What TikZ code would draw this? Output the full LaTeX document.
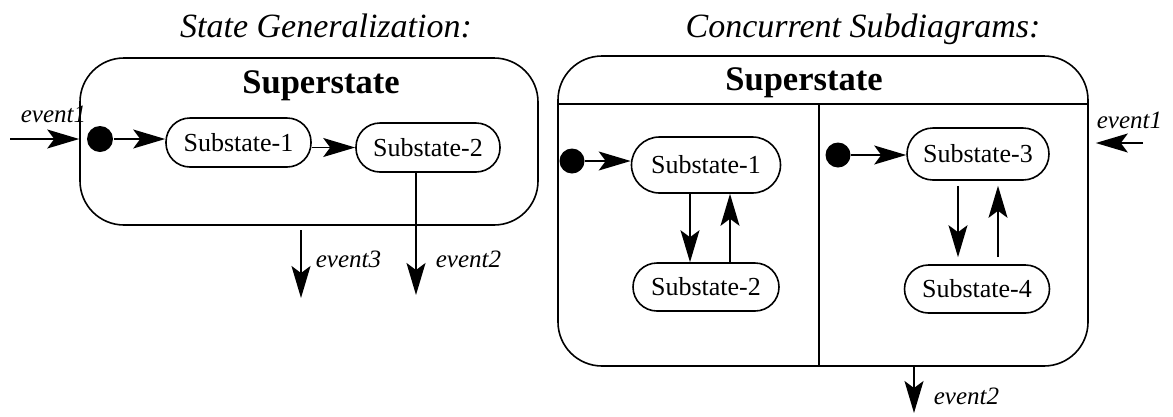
\documentclass[tikz,border=0pt]{standalone}
\usepackage{fontspec}
\setmainfont{Liberation Serif}
\usetikzlibrary{arrows.meta}
\begin{document}
\begin{tikzpicture}[x=1pt,y=-1pt,
  line width=1.6pt,
  sub/.style={draw, rounded corners=24pt, inner sep=0pt, minimum height=49pt, font=\fontsize{26}{30}\selectfont},
  bigbox/.style={draw, rounded corners=44pt, inner sep=0pt},
  super/.style={font=\bfseries\fontsize{34.5}{40}\selectfont, anchor=base, inner sep=0pt},
  ttl/.style={font=\itshape\fontsize{34}{40}\selectfont, anchor=base, inner sep=0pt},
  evt/.style={font=\itshape\fontsize{25}{30}\selectfont, anchor=base west, inner sep=0pt},
  init/.style={circle, fill, inner sep=0pt, minimum size=25pt},
  tr/.style={-{Stealth[length=32pt,width=19pt,inset=7pt]}},
]
\useasboundingbox (0,0) rectangle (1173,416);

% ---------- left: State Generalization ----------
\node[ttl] (T1) at (326,37) {State Generalization:};
\node[bigbox, minimum width=458pt, minimum height=167pt] (LB) at (309,141.5) {};
\node[super] (LS) at (321,93) {Superstate};
\node[init, minimum size=26pt] (L0) at (100,139) {};
\node[sub, minimum width=145pt] (L1) at (238.5,142.5) {Substate-1};
\node[sub, minimum width=144pt] (L2) at (428,147.5) {Substate-2};

\coordinate (Le1) at (10,139);
\draw[tr] (Le1) -- (Le1 -| LB.west);
\node[evt] (Le1t) at (20,122) {event1};
\draw[tr] (L0) -- (L0 -| L1.west);
\draw[tr] (L1.east |- L2.west) -- (L2.west);

\coordinate (Le2) at (416,295);
\draw[tr] (L2.south -| Le2) -- (Le2);
\node[evt] (Le2t) at (435,267) {event2};

\coordinate (Le3s) at (301,230);
\coordinate (Le3e) at (301,298);
\draw[tr] (Le3s) -- (Le3e);
\node[evt] (Le3t) at (315,267) {event3};

% ---------- right: Concurrent Subdiagrams ----------
\node[ttl] (T2) at (863,37) {Concurrent Subdiagrams:};
\node[bigbox, minimum width=530pt, minimum height=310pt] (RB) at (823,211) {};
\draw (558,104) -- (1088,104);
\draw (819,104) -- (819,366);
\node[super] (RS) at (804,90) {Superstate};

\node[init] (R0a) at (572,161) {};
\node[sub, minimum width=149pt, minimum height=56pt, rounded corners=28pt] (R1) at (706,165) {Substate-1};
\node[sub, minimum width=146pt, minimum height=48pt] (R2) at (706,287) {Substate-2};
\draw[tr] (R0a) -- (R0a -| R1.west);
\draw[tr] ([xshift=-16pt]R1.south) -- ([xshift=-16pt]R2.north);
\draw[tr] ([xshift=24pt]R2.north) -- ([xshift=24pt]R1.south);

\node[init] (R0b) at (838,155) {};
\node[sub, minimum width=142pt, minimum height=52pt, rounded corners=26pt] (R3) at (978,154) {Substate-3};
\node[sub, minimum width=145pt, minimum height=48pt] (R4) at (977,289) {Substate-4};
\draw[tr] (R0b) -- (R0b -| R3.west);
\draw[tr, shorten <=5pt, shorten >=7pt] ([xshift=-20pt]R3.south) -- ([xshift=-19pt]R4.north);
\draw[tr, shorten <=7pt, shorten >=5pt] ([xshift=21pt]R4.north) -- ([xshift=20pt]R3.south);

\coordinate (Re1) at (1143,143);
\draw[tr, shorten >=7pt] (Re1) -- (Re1 -| RB.east);
\node[evt] (Re1t) at (1096,128) {event1};

\coordinate (Re2) at (914,413);
\draw[tr] (Re2 |- RB.south) -- (Re2);
\node[evt] (Re2t) at (933,404) {event2};
\end{tikzpicture}
\end{document}
